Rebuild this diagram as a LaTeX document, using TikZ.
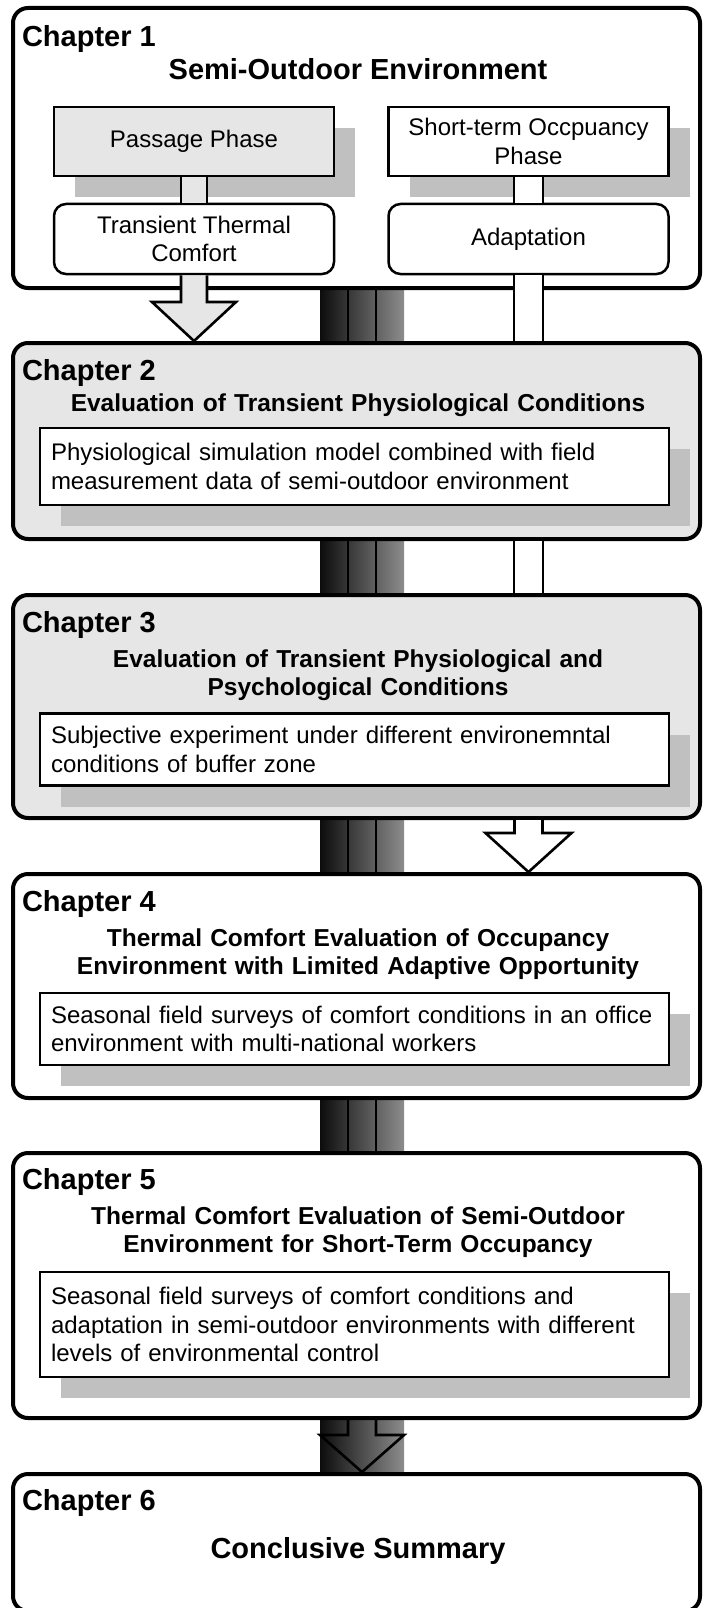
\documentclass[tikz,border=0pt]{standalone}
\usepackage{fontspec}
\setmainfont{Liberation Sans}
\usetikzlibrary{calc,shadows}
\definecolor{panelgray}{HTML}{E6E6E6}
\definecolor{shadowgray}{HTML}{C0C0C0}
\pgfdeclarelayer{background}
\pgfsetlayers{background,main}
\begin{document}
\begin{tikzpicture}[x=1pt, y=-1pt,
  every node/.style={inner sep=0pt, outer sep=0pt},
  chapbox/.style={draw, line width=4pt, rounded corners=15pt, minimum width=687pt},
  lab/.style={font=\fontsize{29}{33}\selectfont\bfseries, anchor=base west},
  bigtitle/.style={font=\fontsize{29}{33}\selectfont\bfseries, anchor=base},
  title/.style={font=\fontsize{24.5}{28}\selectfont\bfseries, anchor=base, text width=680pt, align=center},
  body/.style={font=\fontsize{24}{28.5}\selectfont},
  flatshadow/.style={drop shadow={shadow xshift=21pt, shadow yshift=-21pt, opacity=1, fill=shadowgray}},
  subbox/.style={body, draw, line width=2.5pt, fill=white, text width=607pt, inner xsep=11pt, align=left, flatshadow},
  phase/.style={body, draw, line width=2.5pt, minimum width=280pt, minimum height=69pt, align=center, flatshadow},
  result/.style={body, draw, line width=2.5pt, fill=white, rounded corners=12pt, minimum width=280pt, minimum height=70pt, align=center},
  rail/.style={line width=2.6pt},
  spine/.style={left color=black!95, right color=black!45},
]
\useasboundingbox (0,0) rectangle (704,1608);

% spine positions
\coordinate (spineL) at (320,0);
\coordinate (spineR) at (404,0);
\coordinate (spineC) at (362,0);
\coordinate (sepA) at (348,0);
\coordinate (sepB) at (376,0);

% ---------- chapter frames ----------
\node[chapbox, fill=white, minimum height=280pt] (ch1) at (356.5,148) {};
\node[chapbox, fill=panelgray, minimum height=196pt] (ch2) at (356.5,441) {};
\node[chapbox, fill=panelgray, minimum height=223pt] (ch3) at (356.5,706.5) {};
\node[chapbox, fill=white, minimum height=224pt] (ch4) at (356.5,986) {};
\node[chapbox, fill=white, minimum height=265pt] (ch5) at (356.5,1285.5) {};
\node[chapbox, fill=white, minimum height=137pt] (ch6) at (356.5,1542.5) {};

% ---------- chapter 1 ----------
\node[lab] (ch1lab) at (22,47) {Chapter 1};
\node[bigtitle] (ch1title) at (358,80) {Semi-Outdoor Environment};
\node[phase, fill=panelgray] (pass) at (194,141.5) {Passage Phase};
\node[phase, fill=white] (short) at (528.5,141.5) {Short-term Occpuancy\\Phase};
\node[result] (ttc) at (194,239) {Transient Thermal\\Comfort};
\node[result] (adapt) at (528.5,239) {Adaptation};

% ---------- chapter 2 ----------
\node[lab] (ch2lab) at (22,380) {Chapter 2};
\node[title] (ch2title) at (358,411) {Evaluation of Transient Physiological Conditions};
\node[subbox, minimum height=77pt] (ch2sub) at (354.5,466.5)
  {Physiological simulation model combined with field\\measurement data of semi-outdoor environment};

% ---------- chapter 3 ----------
\node[lab] (ch3lab) at (22,632) {Chapter 3};
\node[title] (ch3title) at (358,667) {Evaluation of Transient Physiological and\\Psychological Conditions};
\node[subbox, minimum height=72pt] (ch3sub) at (354.5,749.5)
  {Subjective experiment under different environemntal\\conditions of buffer zone};

% ---------- chapter 4 ----------
\node[lab] (ch4lab) at (22,911) {Chapter 4};
\node[title] (ch4title) at (358,946) {Thermal Comfort Evaluation of Occupancy\\Environment with Limited Adaptive Opportunity};
\node[subbox, minimum height=72pt] (ch4sub) at (354.5,1029)
  {Seasonal field surveys of comfort conditions in an office\\environment with multi-national workers};

% ---------- chapter 5 ----------
\node[lab] (ch5lab) at (22,1189) {Chapter 5};
\node[title] (ch5title) at (358,1224) {Thermal Comfort Evaluation of Semi-Outdoor\\Environment for Short-Term Occupancy};
\node[subbox, minimum height=105pt] (ch5sub) at (354.5,1324.5)
  {Seasonal field surveys of comfort conditions and\\adaptation in semi-outdoor environments with different\\levels of environmental control};

% ---------- chapter 6 ----------
\node[lab] (ch6lab) at (22,1510) {Chapter 6};
\node[bigtitle] (ch6title) at (358,1558) {Conclusive Summary};

% ---------- shaded spine between chapters ----------
\begin{pgfonlayer}{background}
  \foreach \a/\b in {ch1/ch2, ch2/ch3, ch3/ch4, ch4/ch5, ch5/ch6}{
    \shade[spine] (spineL |- \a.south) rectangle (spineR |- \b.north);
  }
  \foreach \a/\b in {ch1/ch2, ch2/ch3, ch3/ch4, ch4/ch5}{
    \draw[rail] (sepA |- \a.south) -- (sepA |- \b.north);
    \draw[rail] (sepB |- \a.south) -- (sepB |- \b.north);
  }
\end{pgfonlayer}

% ---------- connectors in chapter 1 ----------
\fill[panelgray] ($(pass.south)+(-13,1.3)$) rectangle ($(ttc.north)+(13,-1.3)$);
\draw[rail] ($(pass.south)+(-13,0)$) -- ($(ttc.north)+(-13,0)$)
            ($(pass.south)+(13,0)$) -- ($(ttc.north)+(13,0)$);
\fill[white] ($(short.south)+(-14.5,1.3)$) rectangle ($(adapt.north)+(14.5,-1.3)$);
\draw[rail] ($(short.south)+(-14.5,0)$) -- ($(adapt.north)+(-14.5,0)$)
            ($(short.south)+(14.5,0)$) -- ($(adapt.north)+(14.5,0)$);

% transient comfort arrow into chapter 2
\draw[rail, fill=panelgray] let \p1=(ttc.south), \p2=(ch2.north) in
  (\x1-13pt,\y1-1.3pt) -- (\x1-13pt,\y2+41pt) -- (\x1-42pt,\y2+41pt) -- (\x1,\y2+2pt)
  -- (\x1+42pt,\y2+41pt) -- (\x1+13pt,\y2+41pt) -- (\x1+13pt,\y1-1.3pt);

% adaptation rail down to chapter 3
\fill[white] ($(adapt.south)+(-14.5,1.3)$) rectangle ($(adapt.south |- ch2.north)+(14.5,-2)$);
\draw[rail] ($(adapt.south)+(-14.5,0)$) -- ($(adapt.south |- ch2.north)+(-14.5,-2)$)
            ($(adapt.south)+(14.5,0)$) -- ($(adapt.south |- ch2.north)+(14.5,-2)$);
\fill[white] ($(adapt.south |- ch2.south)+(-14.5,2)$) rectangle ($(adapt.south |- ch3.north)+(14.5,-2)$);
\draw[rail] ($(adapt.south |- ch2.south)+(-14.5,2)$) -- ($(adapt.south |- ch3.north)+(-14.5,-2)$)
            ($(adapt.south |- ch2.south)+(14.5,2)$) -- ($(adapt.south |- ch3.north)+(14.5,-2)$);

% chapter 3 to chapter 4 arrow
\draw[rail, fill=white] let \p1=(adapt.south |- ch3.south), \p2=(ch4.north) in
  (\x1-14pt,\y1-2pt) -- (\x1-14pt,\y2+41pt) -- (\x1-43pt,\y2+41pt) -- (\x1,\y2+2pt)
  -- (\x1+43pt,\y2+41pt) -- (\x1+14pt,\y2+41pt) -- (\x1+14pt,\y1-2pt);

% chapter 5 to chapter 6 outlined arrow on the spine
\draw[rail] let \p1=(spineC |- ch5.south), \p2=(spineC |- ch6.north) in
  (\x1-14pt,\y1-2pt) -- (\x1-14pt,\y2+39pt) -- (\x1-42pt,\y2+39pt) -- (\x1,\y2+2pt)
  -- (\x1+42pt,\y2+39pt) -- (\x1+14pt,\y2+39pt) -- (\x1+14pt,\y1-2pt);
\end{tikzpicture}
\end{document}
